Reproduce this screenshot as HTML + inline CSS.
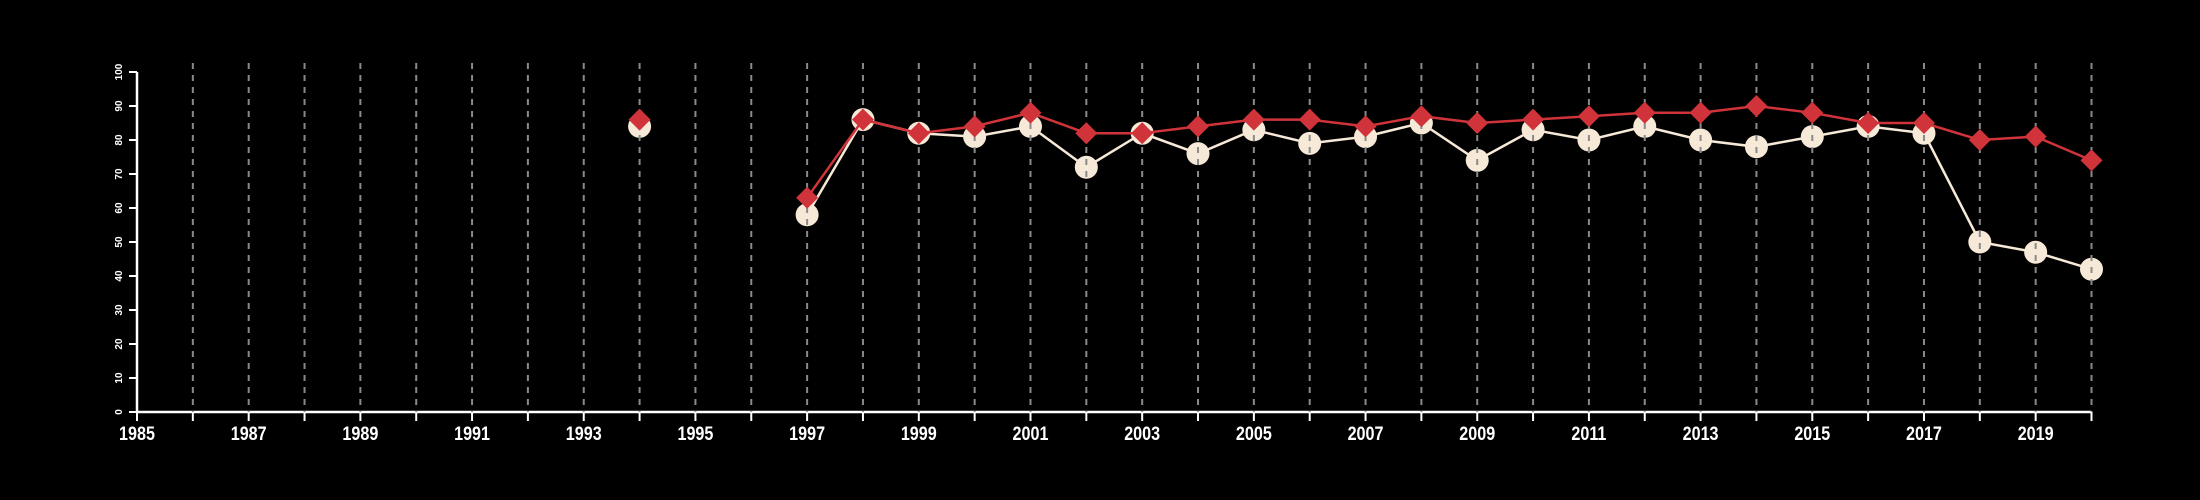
<!DOCTYPE html>
<html><head><meta charset="utf-8"><style>
html,body{margin:0;padding:0;background:#000;}
svg{display:block;}
text{font-family:"Liberation Sans",sans-serif;fill:#fff;font-weight:bold;}
</style></head><body>
<svg id="chart" width="2200" height="500" viewBox="0 0 2200 500" xmlns="http://www.w3.org/2000/svg">
<rect width="2200" height="500" fill="#000"/>
<g id="axes"></g>
<g id="serW"></g>
<g id="grid"></g>
<g id="serR"></g>
</svg>
<script>
const years = [1994,1995,1996,1997,1998,1999,2000,2001,2002,2003,2004,2005,2006,2007,2008,2009,2010,2011,2012,2013,2014,2015,2016,2017,2018,2019,2020];
const seriesWhite = [84,null,null,58,86,82,81,84,72,82,76,83,79,81,85,74,83,80,84,80,78,81,84,82,50,47,42];
const seriesRed = [86,null,null,63,86,82,84,88,82,82,84,86,86,84,87,85,86,87,88,88,90,88,85,85,80,81,74];
const yTicks = [0,10,20,30,40,50,60,70,80,90,100];
const xLabels = [1985,1987,1989,1991,1993,1995,1997,1999,2001,2003,2005,2007,2009,2011,2013,2015,2017,2019];
const xMin=1985,xMax=2020;
const X = v => 137 + (v - xMin) * (2091.5 - 137) / (xMax - xMin);
const Y = v => 412 - v * 3.4;
const NS="http://www.w3.org/2000/svg";
function mk(tag, attrs, parent){const e=document.createElementNS(NS,tag);for(const k in attrs)e.setAttribute(k,attrs[k]);parent.appendChild(e);return e;}
const axes=document.getElementById('axes'), serW=document.getElementById('serW'), serR=document.getElementById('serR'), grid=document.getElementById('grid');
let ya=mk('line',{x1:X(xMin),x2:X(xMin),y1:Y(0),y2:Y(100),stroke:'#fff','stroke-width':2.5},axes);


yTicks.forEach(t=>{
  let l=mk('line',{x1:X(xMin)-8,x2:X(xMin),y1:Y(t),y2:Y(t),stroke:'#fff','stroke-width':2},axes);
  
  
  let tx=mk('text',{x:0,y:0,'font-size':10,'text-anchor':'middle',transform:`translate(${X(xMin)-15},${Y(t)}) rotate(-90)`},axes);
  tx.textContent=t;
  
  
});
let xa=mk('line',{x1:X(xMin),x2:X(xMax),y1:Y(0),y2:Y(0),stroke:'#fff','stroke-width':2.5},axes);


for(let yr=xMin;yr<=xMax;yr++){
  let l=mk('line',{x1:X(yr),x2:X(yr),y1:Y(0),y2:Y(0)+9,stroke:'#fff','stroke-width':2},axes);
  
  
}
xLabels.forEach(yr=>{
  let tx=mk('text',{x:X(yr),y:440,'font-size':19,'text-anchor':'middle',transform:`translate(${X(yr)},0) scale(0.85,1) translate(${-X(yr)},0)`},axes);
  tx.textContent=yr;
  
  
});
for(let yr=xMin+1;yr<=xMax;yr++){
  let g=mk('line',{x1:X(yr),x2:X(yr),y1:63,y2:Y(0),stroke:'#8a8a8a','stroke-width':2,'stroke-dasharray':'6,6'},grid);
  
  
}
function drawLine(vals,color,name,parent){
  let seg=[];
  const flush=()=>{ if(seg.length>1){ let p=mk('polyline',{points:seg.join(' '),fill:'none',stroke:color,'stroke-width':2.5},parent);
    
     } seg=[]; };
  vals.forEach((v,i)=>{ if(v==null){flush();} else seg.push(X(years[i])+','+Y(v)); });
  flush();
}
drawLine(seriesWhite,'#f7e9d7','white-series-line',serW);
drawLine(seriesRed,'#d0343a','red-series-line',serR);
seriesWhite.forEach((v,i)=>{ if(v==null)return;
  let c=mk('circle',{cx:X(years[i]),cy:Y(v),r:11.5,fill:'#f7e9d7'},serW);
  
  
});
seriesRed.forEach((v,i)=>{ if(v==null)return;
  const x=X(years[i]),y=Y(v);
  let d=mk('polygon',{points:`${x},${y-11} ${x+11},${y} ${x},${y+11} ${x-11},${y}`,fill:'#d0343a'},serR);
  
  
});
</script>
</body></html>
